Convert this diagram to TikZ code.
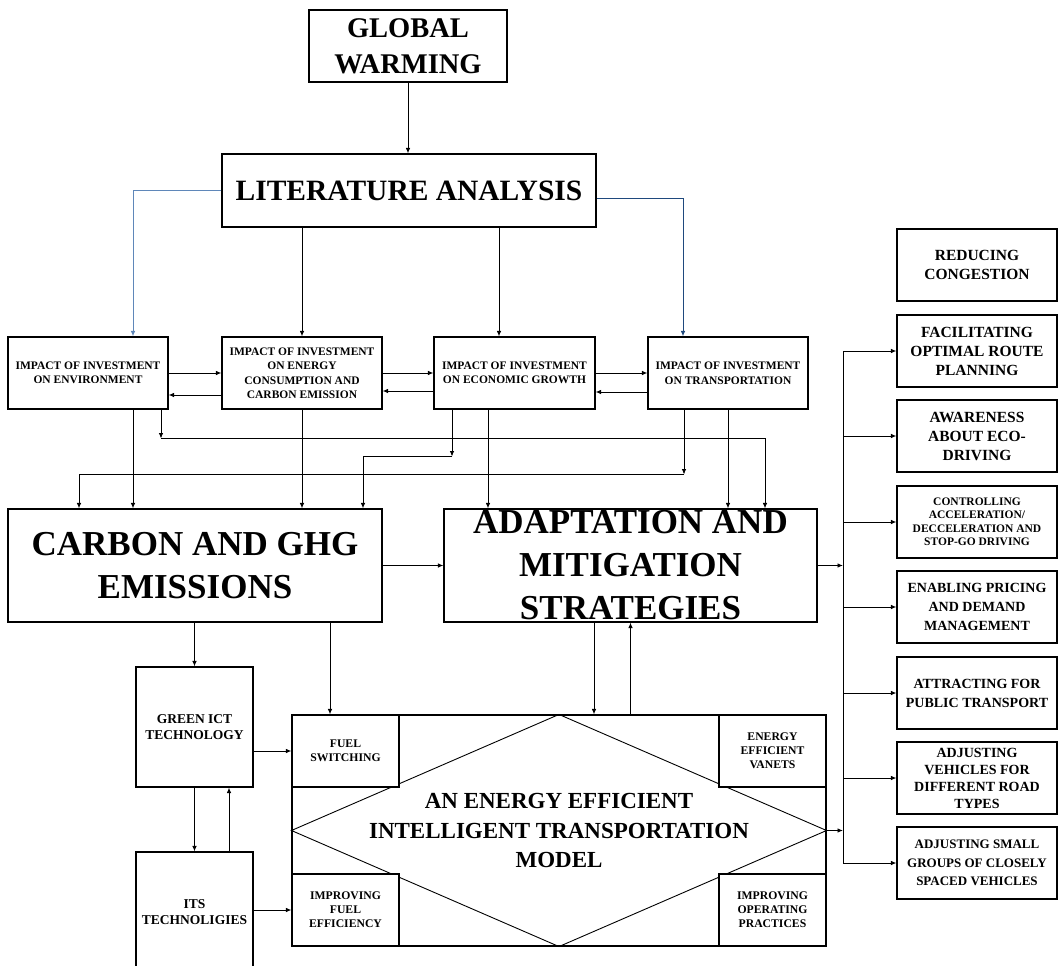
\documentclass[tikz,border=0pt]{standalone}
\usepackage{fontspec}
\setmainfont{Liberation Serif}
\usetikzlibrary{arrows.meta}
\definecolor{lineblue}{RGB}{95,135,185}
\definecolor{navyline}{RGB}{31,73,125}

\begin{document}
\begin{tikzpicture}[x=1pt, y=-1pt, line width=0.9pt,
   >={Latex[length=5.5pt,width=4.5pt]},
   box/.style={draw, line width=1.1pt, fill=white, inner sep=0pt, align=center},
   impact/.style={box, minimum width=160pt, minimum height=72pt, font=\fontsize{11.5}{14.5}\selectfont\bfseries},
   big/.style={box, minimum width=374pt, minimum height=113pt, font=\fontsize{35}{43}\selectfont\bfseries},
   tech/.style={box, minimum width=117pt, minimum height=120pt, font=\fontsize{13.5}{16.5}\selectfont\bfseries},
   corner/.style={box, minimum width=107pt, minimum height=72pt, font=\fontsize{11.7}{14}\selectfont\bfseries},
   goal/.style={box, minimum width=160pt, minimum height=72pt, font=\fontsize{15.5}{19}\selectfont\bfseries}
   ]
   \useasboundingbox (0,0) rectangle (1058,966);
   \clip (0,0) rectangle (1058,966);

   \path (408,46) node[box, minimum width=198pt, minimum height=72pt, font=\fontsize{28.5}{36}\selectfont\bfseries] (gw) {GLOBAL\\WARMING}
   (409,190.5) node[box, minimum width=374pt, minimum height=73pt, font=\fontsize{29.5}{34}\selectfont\bfseries] (la) {LITERATURE ANALYSIS};

   \path (88,373) node[impact] (ioe) {IMPACT OF INVESTMENT\\ON ENVIRONMENT}
   (302,373) node[impact] (ioec) {IMPACT OF INVESTMENT\\ON ENERGY\\CONSUMPTION AND\\CARBON EMISSION}
   (514.5,373) node[impact, minimum width=161pt] (ioeg) {IMPACT OF INVESTMENT\\ON ECONOMIC GROWTH}
   (728,373) node[impact] (iot) {IMPACT OF INVESTMENT\\ON TRANSPORTATION};

   \path (195,565.5) node[big] (carbon) {CARBON AND GHG\\EMISSIONS}
   (630.5,565.5) node[big, minimum width=373pt] (adapt) {ADAPTATION AND\\MITIGATION\\STRATEGIES};

   \path (194.5,727) node[tech] (green) {GREEN ICT\\TECHNOLOGY}
   (194.5,912) node[tech] (its) {ITS\\TECHNOLIGIES};

   % model with the diamond and the four corner boxes
   \node[box, minimum width=534pt, minimum height=231pt, font=\fontsize{23}{29.5}\selectfont\bfseries] (model) at (559,830.5) {AN ENERGY EFFICIENT\\INTELLIGENT TRANSPORTATION\\MODEL};
   \draw (model.west) -- (model.north) -- (model.east) -- (model.south) -- cycle;
   \path (345.5,751) node[corner] (fuel) {FUEL\\SWITCHING}
   (772.5,751) node[corner] (vanet) {ENERGY\\EFFICIENT\\VANETS}
   (345.5,910) node[corner] (eff) {IMPROVING\\FUEL\\EFFICIENCY}
   (772.5,910) node[corner] (oper) {IMPROVING\\OPERATING\\PRACTICES};

   \path (977,265) node[goal] (congest) {REDUCING\\CONGESTION}
   (977,351) node[goal] (route) {FACILITATING\\OPTIMAL ROUTE\\PLANNING}
   (977,436) node[goal] (eco) {AWARENESS\\ABOUT ECO-\\DRIVING}
   (977,522) node[goal, font=\fontsize{11.5}{13.5}\selectfont\bfseries] (accel) {CONTROLLING\\ACCELERATION/\\DECCELERATION AND\\STOP-GO DRIVING}
   (977,607) node[goal, font=\fontsize{14}{19}\selectfont\bfseries] (pricing) {ENABLING PRICING\\AND DEMAND\\MANAGEMENT}
   (977,693) node[goal, font=\fontsize{14}{19}\selectfont\bfseries] (public) {ATTRACTING FOR\\PUBLIC TRANSPORT}
   (977,778) node[goal, font=\fontsize{14}{17}\selectfont\bfseries] (roads) {ADJUSTING\\VEHICLES FOR\\DIFFERENT ROAD\\TYPES}
   (977,863) node[goal, font=\fontsize{13}{18.5}\selectfont\bfseries] (platoon) {ADJUSTING SMALL\\GROUPS OF CLOSELY\\SPACED VEHICLES};

   \coordinate (bustop) at (843,351);
   \coordinate (busbot) at (843,863);

   % top part
   \draw[->] (gw.south) -- (gw.south |- la.north);
   \draw[->, color=lineblue] (la.west) -| ([xshift=45pt]ioe.north);
   \draw[->, color=navyline] ([yshift=-7.5pt]la.east) -| ([xshift=-45pt]iot.north);
   \draw[->] (la.south -| ioec.north) -- (ioec.north);
   \coordinate (ioeg-in) at ([xshift=-15.5pt]ioeg.north);
   \draw[->] (la.south -| ioeg-in) -- (ioeg-in);

   \draw[->] (ioe.east) -- (ioec.west);
   \draw[->] ([yshift=-22pt]ioec.west) -- ([yshift=-22pt]ioe.east);
   \draw[->] (ioec.east) -- (ioeg.west);
   \draw[->] ([yshift=-18pt]ioeg.west) -- ([yshift=-18pt]ioec.east);
   \draw[->] (ioeg.east) -- (iot.west);
   \draw[->] ([yshift=-19pt]iot.west) -- ([yshift=-19pt]ioeg.east);

   % impacts down to the two big boxes
   \coordinate (ioe-a) at ([xshift=45pt]ioe.south);
   \draw[->] (ioe-a) -- (ioe-a |- carbon.north);
   \coordinate (ioe-b) at ([xshift=73pt]ioe.south);
   \draw[->] (ioe-b) -- ++(0,29) coordinate (ioe-bend);
   \draw[->] (ioe-bend) -| ([xshift=134.5pt]adapt.north);
   \draw[->] (ioec.south) -- (ioec.south |- carbon.north);
   \coordinate (ioeg-a) at ([xshift=-62.5pt]ioeg.south);
   \draw[->] (ioeg-a) -- ++(0,47) coordinate (ioeg-bend);
   \draw[->] (ioeg-bend) -| ([xshift=168pt]carbon.north);
   \coordinate (ioeg-b) at ([xshift=-26.5pt]ioeg.south);
   \draw[->] (ioeg-b) -- (ioeg-b |- adapt.north);
   \coordinate (iot-a) at ([xshift=-44pt]iot.south);
   \draw[->] (iot-a) -- ++(0,65) coordinate (iot-bend);
   \draw[->] (iot-bend) -| ([xshift=-116pt]carbon.north);
   \draw[->] (iot.south) -- (iot.south |- adapt.north);

   \draw[->] (carbon.east) -- (adapt.west);
   \draw[->] (adapt.east) -- (adapt.east -| bustop);

   % lower part
   \coordinate (ad-out) at ([xshift=-36.5pt]adapt.south);
   \draw[->] (ad-out) -- (ad-out |- model.north);
   \draw[->] (model.north -| adapt.south) -- (adapt.south);
   \draw[->] (carbon.south -| green.north) -- (green.north);
   \coordinate (fuel-in) at ([xshift=-15.5pt]fuel.north);
   \draw[->] (fuel-in |- carbon.south) -- (fuel-in);
   \draw[->] (green.south) -- (its.north);
   \coordinate (its-up) at ([xshift=34.5pt]its.north);
   \draw[->] (its-up) -- (its-up |- green.south);
   \draw[->] (fuel.west -| green.east) -- (fuel.west);
   \draw[->] (eff.west -| its.east) -- (eff.west);
   \draw[->] (model.east) -- (model.east -| bustop);

   % bus on the right
   \draw (bustop) -- (busbot);
   \draw[->] (route.west -| bustop) -- (route.west);
   \draw[->] (eco.west -| bustop) -- (eco.west);
   \draw[->] (accel.west -| bustop) -- (accel.west);
   \draw[->] (pricing.west -| bustop) -- (pricing.west);
   \draw[->] (public.west -| bustop) -- (public.west);
   \draw[->] (roads.west -| bustop) -- (roads.west);
   \draw[->] (platoon.west -| bustop) -- (platoon.west);

\end{tikzpicture}
\end{document}
